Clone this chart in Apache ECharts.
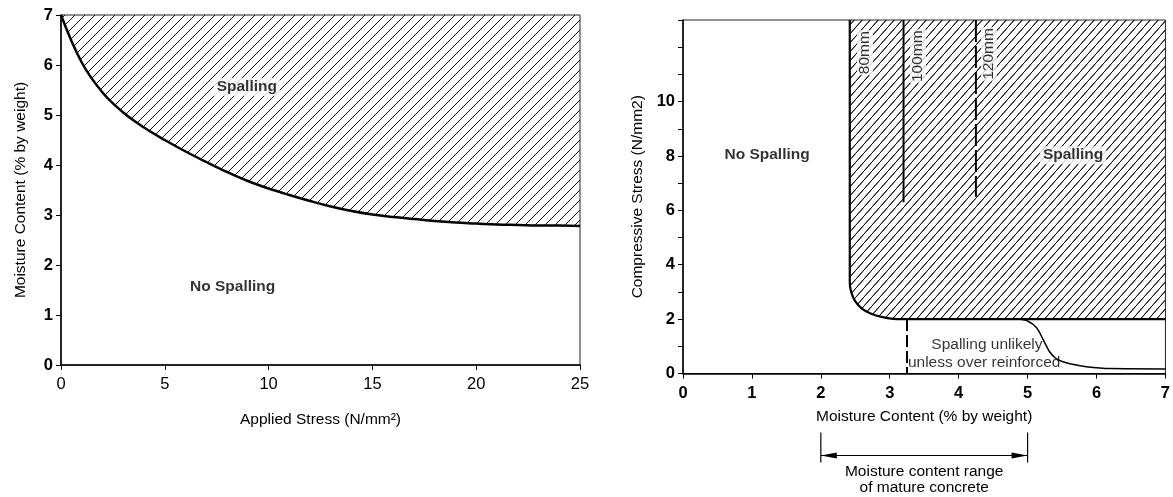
<!DOCTYPE html>
<html><head><meta charset="utf-8">
<script src="https://cdn.jsdelivr.net/npm/echarts@6/dist/echarts.min.js"></script>
<style>html,body{margin:0;padding:0;background:#fff}#c{width:1173px;height:497px}</style>
</head><body><div id="c"></div>
<script>
// ---- Left chart data ----
const stressLeft   = [0,1,2,3,4,5,6,7,8,9,10,11,12,13,14,15,16,17,18,19,20,21,22,23,24,25];
const moistureLeft = [7.0,6.05,5.45,5.05,4.75,4.5,4.27,4.06,3.86,3.68,3.53,3.40,3.28,3.17,3.08,3.01,2.96,2.92,2.88,2.85,2.83,2.81,2.80,2.79,2.79,2.78];
const leftLabels = [['Spalling', 8.95, 5.56], ['No Spalling', 8.27, 1.56]];

// ---- Right chart data ----
const boundaryMoisture = [2.42,2.42,2.44,2.5,2.6,2.73,2.88,3.05,3.2,7];
const boundaryStress   = [13,3.35,3.0,2.65,2.38,2.2,2.08,2.01,2.0,2.0];
const unlikelyMoisture = [4.85,5.0,5.13,5.23,5.32,5.4,5.5,5.65,5.85,6.2,7];
const unlikelyStress   = [2.0,1.93,1.68,1.23,0.8,0.58,0.44,0.34,0.25,0.18,0.17];
const line100Moisture = [3.2,3.2];  const line100Stress = [13,6.3];
const line120Moisture = [4.25,4.25]; const line120Stress = [13,6.5];
const matureMoisture = [3.25,3.25]; const matureStress = [2.0,0];
const rightLabels = [['No Spalling',1.22,8.03],['Spalling',5.66,8.03]];
const thicknessLabels = [['80mm',2.64,11.8],['100mm',3.41,11.67],['120mm',4.44,11.75]];
const noteLabels = [['Spalling unlikely',4.41,1.05],['unless over reinforced',4.37,0.39]];
const rangeStart = 2, rangeEnd = 5;
const rangeText = ['Moisture content range','of mature concrete'];

const FONT = '"Liberation Sans", Arial, Helvetica, sans-serif';
const FS = 15.5;
const TFS = 16.5;

function hatch(w, h) {
  const c = document.createElement('canvas'); c.width = w; c.height = h;
  const g = c.getContext('2d'); g.strokeStyle = '#111'; g.lineWidth = 1;
  g.beginPath();
  g.moveTo(0, h); g.lineTo(w, 0);
  g.moveTo(-w, h); g.lineTo(0, 0);
  g.moveTo(w, h); g.lineTo(2*w, 0);
  g.moveTo(-w, 2*h); g.lineTo(w, 0);
  g.stroke();
  return c;
}
function zip(a, b) { return a.map((v, i) => [v, b[i]]); }

function axisCommon(bold, margin) {
  return {
    axisLine: {show: true, onZero: false, lineStyle: {color: '#000', width: 1.5}},
    axisTick: {show: true, length: 5, lineStyle: {color: '#000', width: 1}},
    axisLabel: {color: '#000', fontSize: TFS, fontFamily: FONT, fontWeight: bold ? 'bold' : 'normal', margin: margin},
    splitLine: {show: false},
    nameTextStyle: {color: '#000', fontSize: FS, fontFamily: FONT},
    nameLocation: 'middle'
  };
}

const labelSeries = (xi, yi, arr, opts) => ({
  type: 'scatter', xAxisIndex: xi, yAxisIndex: yi, symbolSize: 0, silent: true, z: 10,
  data: arr.map(l => [l[1], l[2], l[0]]),
  label: Object.assign({show: true, position: 'inside', formatter: p => p.data[2],
    color: '#000', fontSize: FS, fontFamily: FONT, backgroundColor: '#fff', padding: [1, 3]}, opts)
});

const chart = echarts.init(document.getElementById('c'), null, {renderer: 'canvas'});
chart.setOption({
  animation: false,
  backgroundColor: '#fff',
  grid: [
    {left: 61, right: 593, top: 15, bottom: 132, show: true, borderColor: '#222', borderWidth: 1, backgroundColor: 'transparent'},
    {left: 683, right: 3, top: 20, bottom: 123.5, show: true, borderColor: '#222', borderWidth: 1, backgroundColor: 'transparent'}
  ],
  xAxis: [
    Object.assign(axisCommon(false, 11), {type: 'value', gridIndex: 0, min: 0, max: 25, interval: 5,
      name: 'Applied Stress (N/mm²)', nameGap: 47}),
    Object.assign(axisCommon(true, 11), {type: 'value', gridIndex: 1, min: 0, max: 7, interval: 1,
      name: 'Moisture Content (% by weight)', nameGap: 35})
  ],
  yAxis: [
    Object.assign(axisCommon(true, 8), {type: 'value', gridIndex: 0, min: 0, max: 7, interval: 1,
      name: 'Moisture Content (% by weight)', nameGap: 32}),
    Object.assign(axisCommon(true, 8), {type: 'value', gridIndex: 1, min: 0, max: 13, interval: 1,
      name: 'Compressive Stress (N/mm2)', nameGap: 37,
      axisLabel: {color: '#000', fontSize: TFS, fontFamily: FONT, fontWeight: 'bold', margin: 8,
        formatter: v => (v % 2 === 0 && v <= 10) ? String(v) : ''}})
  ],
  series: [
    {type: 'line', xAxisIndex: 0, yAxisIndex: 0, data: zip(stressLeft, moistureLeft), smooth: 0.4,
     showSymbol: false, silent: true, lineStyle: {color: '#000', width: 2.5},
     areaStyle: {origin: 'end', opacity: 1, color: {image: hatch(10, 10), repeat: 'repeat'}}},
    labelSeries(0, 0, leftLabels, {fontWeight: 'bold'}),

    {type: 'line', xAxisIndex: 1, yAxisIndex: 1, data: zip(boundaryMoisture, boundaryStress), smooth: 0.3,
     showSymbol: false, silent: true, lineStyle: {color: '#000', width: 2.2},
     areaStyle: {origin: 'end', opacity: 1, color: {image: hatch(8, 9), repeat: 'repeat'}}},
    {type: 'line', xAxisIndex: 1, yAxisIndex: 1, data: zip(line100Moisture, line100Stress),
     showSymbol: false, silent: true, lineStyle: {color: '#000', width: 2}},
    {type: 'line', xAxisIndex: 1, yAxisIndex: 1, data: zip(line120Moisture, line120Stress),
     showSymbol: false, silent: true, lineStyle: {color: '#000', width: 2, type: [22, 4]}},
    {type: 'line', xAxisIndex: 1, yAxisIndex: 1, data: zip(matureMoisture, matureStress),
     showSymbol: false, silent: true, lineStyle: {color: '#000', width: 2, type: [12, 4]}},
    {type: 'line', xAxisIndex: 1, yAxisIndex: 1, data: zip(unlikelyMoisture, unlikelyStress), smooth: 0.3,
     showSymbol: false, silent: true, lineStyle: {color: '#000', width: 1.5}},
    labelSeries(1, 1, rightLabels, {fontWeight: 'bold'}),
    labelSeries(1, 1, thicknessLabels, {rotate: 90, padding: [0, 1]}),
    labelSeries(1, 1, noteLabels, {backgroundColor: 'transparent', padding: 0}),

    {type: 'custom', xAxisIndex: 1, yAxisIndex: 1, clip: false, silent: true, z: 10,
     data: [[rangeStart, rangeEnd]],
     renderItem: (params, api) => {
       const p1 = api.coord([api.value(0), 0]);
       const p2 = api.coord([api.value(1), 0]);
       const y0 = p1[1], xa = p1[0], xb = p2[0], ya = y0 + 82, xm = (xa + xb) / 2;
       const st = {stroke: '#000', lineWidth: 1.2};
       const txt = (t, y) => ({type: 'text', x: xm, y: y,
         style: {text: t, align: 'center', verticalAlign: 'middle', fill: '#000',
                 fontSize: FS, fontFamily: FONT}});
       return {type: 'group', children: [
         {type: 'line', shape: {x1: xa, y1: y0 + 59, x2: xa, y2: y0 + 89}, style: st},
         {type: 'line', shape: {x1: xb, y1: y0 + 59, x2: xb, y2: y0 + 89}, style: st},
         {type: 'line', shape: {x1: xa, y1: ya, x2: xb, y2: ya}, style: st},
         {type: 'polygon', shape: {points: [[xa, ya], [xa + 16, ya - 3], [xa + 16, ya + 3]]}, style: {fill: '#000'}},
         {type: 'polygon', shape: {points: [[xb, ya], [xb - 16, ya - 3], [xb - 16, ya + 3]]}, style: {fill: '#000'}},
         txt(rangeText[0], y0 + 98.5),
         txt(rangeText[1], y0 + 114.5)
       ]};
     }}
  ]
});
</script></body></html>
